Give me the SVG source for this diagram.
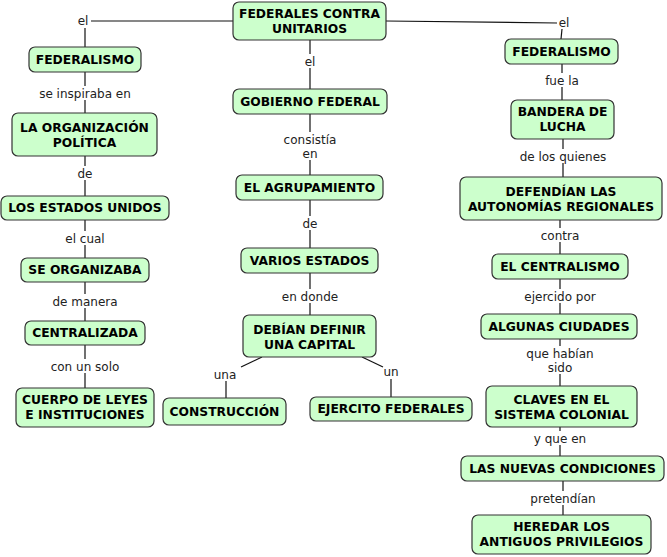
<svg xmlns="http://www.w3.org/2000/svg" width="667" height="557" viewBox="0 0 667 557">
<style>
.n rect{fill:#ccffcc;stroke:#333;stroke-width:1.2}
.n text{font-family:"DejaVu Sans",Verdana,sans-serif;font-weight:bold;font-size:12.3px;fill:#000;text-anchor:middle}
.c line{stroke:#111;stroke-width:1.2}
.l{font-family:"DejaVu Sans",Verdana,sans-serif;font-size:12px;fill:#222;text-anchor:middle}
</style>
<rect width="667" height="557" fill="#fff"/>
<g id="connectors" class="c">
<line x1="233" y1="21" x2="91" y2="21"/><line x1="85" y1="28" x2="85" y2="47"/>
<line x1="386" y1="21" x2="557" y2="23"/><line x1="562" y1="29" x2="561" y2="39"/>
<line x1="310" y1="40" x2="310" y2="54"/><line x1="310" y1="68" x2="310" y2="89"/>
<line x1="85" y1="72" x2="85" y2="86"/><line x1="85" y1="100" x2="85" y2="113"/>
<line x1="85" y1="156" x2="85" y2="166"/><line x1="85" y1="180" x2="85" y2="196"/>
<line x1="85" y1="220" x2="85" y2="231"/><line x1="85" y1="245" x2="85" y2="258"/>
<line x1="85" y1="282" x2="85" y2="294"/><line x1="85" y1="308" x2="85" y2="321"/>
<line x1="85" y1="345" x2="85" y2="359"/><line x1="85" y1="373" x2="85" y2="388"/>
<line x1="310" y1="114" x2="310" y2="132"/><line x1="310" y1="160" x2="310" y2="175"/>
<line x1="310" y1="200" x2="310" y2="216"/><line x1="310" y1="230" x2="310" y2="248"/>
<line x1="310" y1="273" x2="310" y2="289"/><line x1="310" y1="303" x2="310" y2="315"/>
<line x1="262" y1="357" x2="241" y2="367"/><line x1="226" y1="381" x2="226" y2="398"/>
<line x1="362" y1="357" x2="383" y2="367"/><line x1="391" y1="379" x2="391" y2="397"/>
<line x1="562" y1="64" x2="562" y2="73"/><line x1="562" y1="87" x2="562" y2="100"/>
<line x1="563" y1="139" x2="563" y2="149"/><line x1="563" y1="163" x2="563" y2="177"/>
<line x1="560" y1="220" x2="560" y2="228"/><line x1="560" y1="242" x2="560" y2="254"/>
<line x1="560" y1="279" x2="560" y2="289"/><line x1="560" y1="303" x2="560" y2="314"/>
<line x1="560" y1="339" x2="560" y2="346"/><line x1="560" y1="374" x2="560" y2="386"/>
<line x1="560" y1="427" x2="560" y2="431"/><line x1="560" y1="445" x2="560" y2="456"/>
<line x1="563" y1="481" x2="563" y2="491"/><line x1="563" y1="505" x2="563" y2="515"/>
</g>
<g id="labels">
<text class="l" x="83" y="25">el</text>
<text class="l" x="564" y="27">el</text>
<text class="l" x="310" y="66">el</text>
<text class="l" x="85" y="98">se inspiraba en</text>
<text class="l" x="85" y="178">de</text>
<text class="l" x="85" y="243">el cual</text>
<text class="l" x="85" y="306">de manera</text>
<text class="l" x="85" y="371">con un solo</text>
<text class="l" x="310" y="144">consistía</text>
<text class="l" x="310" y="158">en</text>
<text class="l" x="310" y="228">de</text>
<text class="l" x="310" y="301">en donde</text>
<text class="l" x="225" y="379">una</text>
<text class="l" x="391" y="376">un</text>
<text class="l" x="562" y="85">fue la</text>
<text class="l" x="563" y="161">de los quienes</text>
<text class="l" x="560" y="240">contra</text>
<text class="l" x="560" y="301">ejercido por</text>
<text class="l" x="560" y="358">que habían</text>
<text class="l" x="560" y="372">sido</text>
<text class="l" x="560" y="443">y que en</text>
<text class="l" x="563" y="503">pretendían</text>
</g>
<g id="n-root" class="n"><rect x="233" y="2" width="153" height="38" rx="6"/><text x="309.5" y="18">FEDERALES CONTRA</text><text x="309.5" y="33">UNITARIOS</text></g>
<g id="n-fed-l" class="n"><rect x="29" y="47" width="112" height="25" rx="6"/><text x="85" y="64">FEDERALISMO</text></g>
<g id="n-org" class="n"><rect x="12" y="113" width="145" height="43" rx="6"/><text x="84.5" y="132">LA ORGANIZACIÓN</text><text x="84.5" y="147">POLÍTICA</text></g>
<g id="n-eeuu" class="n"><rect x="1" y="196" width="168" height="24" rx="6"/><text x="85" y="212">LOS ESTADOS UNIDOS</text></g>
<g id="n-seorg" class="n"><rect x="21" y="258" width="128" height="24" rx="6"/><text x="85" y="274">SE ORGANIZABA</text></g>
<g id="n-centr" class="n"><rect x="25" y="321" width="120" height="24" rx="6"/><text x="85" y="337">CENTRALIZADA</text></g>
<g id="n-cuerpo" class="n"><rect x="16" y="388" width="138" height="39" rx="6"/><text x="85" y="404">CUERPO DE LEYES</text><text x="85" y="419">E INSTITUCIONES</text></g>
<g id="n-gob" class="n"><rect x="233" y="89" width="154" height="25" rx="6"/><text x="310" y="106">GOBIERNO FEDERAL</text></g>
<g id="n-agrup" class="n"><rect x="236" y="175" width="147" height="25" rx="6"/><text x="309.5" y="192">EL AGRUPAMIENTO</text></g>
<g id="n-varios" class="n"><rect x="241" y="248" width="137" height="25" rx="6"/><text x="309.5" y="265">VARIOS ESTADOS</text></g>
<g id="n-debian" class="n"><rect x="243" y="315" width="133" height="42" rx="6"/><text x="309.5" y="334">DEBÍAN DEFINIR</text><text x="309.5" y="349">UNA CAPITAL</text></g>
<g id="n-constr" class="n"><rect x="163" y="398" width="123" height="27" rx="6"/><text x="224.5" y="416">CONSTRUCCIÓN</text></g>
<g id="n-ejerc" class="n"><rect x="310" y="397" width="162" height="24" rx="6"/><text x="391" y="413">EJERCITO FEDERALES</text></g>
<g id="n-fed-r" class="n"><rect x="505" y="39" width="113" height="25" rx="6"/><text x="561.5" y="56">FEDERALISMO</text></g>
<g id="n-bandera" class="n"><rect x="511" y="100" width="103" height="39" rx="6"/><text x="562.5" y="116">BANDERA DE</text><text x="562.5" y="131">LUCHA</text></g>
<g id="n-defend" class="n"><rect x="460" y="177" width="202" height="43" rx="6"/><text x="561" y="196">DEFENDÍAN LAS</text><text x="561" y="211">AUTONOMÍAS REGIONALES</text></g>
<g id="n-centralismo" class="n"><rect x="492" y="254" width="136" height="25" rx="6"/><text x="560" y="271">EL CENTRALISMO</text></g>
<g id="n-ciudades" class="n"><rect x="481" y="314" width="156" height="25" rx="6"/><text x="559" y="331">ALGUNAS CIUDADES</text></g>
<g id="n-claves" class="n"><rect x="486" y="386" width="151" height="41" rx="6"/><text x="561.5" y="404">CLAVES EN EL</text><text x="561.5" y="419">SISTEMA COLONIAL</text></g>
<g id="n-nuevas" class="n"><rect x="461" y="456" width="203" height="25" rx="6"/><text x="562.5" y="473">LAS NUEVAS CONDICIONES</text></g>
<g id="n-heredar" class="n"><rect x="472" y="515" width="179" height="39" rx="6"/><text x="561.5" y="531">HEREDAR LOS</text><text x="561.5" y="546">ANTIGUOS PRIVILEGIOS</text></g>
</svg>
